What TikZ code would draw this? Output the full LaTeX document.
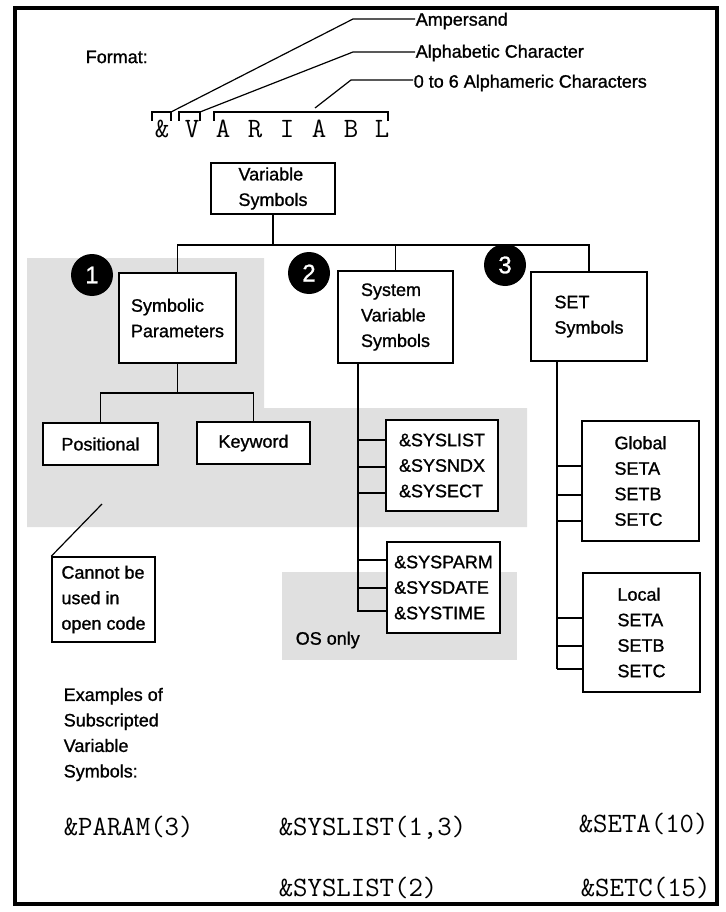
\documentclass[tikz,border=0pt]{standalone}
\usepackage{fontspec}
\setmainfont{Liberation Sans}[BoldFont=Liberation Sans, BoldFeatures={FakeBold=1.1}]
\usepackage{tikz}
\usetikzlibrary{calc, positioning}
\definecolor{screen}{RGB}{224,224,224}

\begin{document}
\begin{tikzpicture}[x=1pt, y=-1pt, line width=1.5pt,
  every node/.style={font=\fontsize{18}{25.5}\selectfont\bfseries},
  txt/.style={anchor=west, inner sep=0pt},
  box/.style={draw, fill=white, align=left, inner sep=0pt},
  num/.style={circle, fill=black, text=white, minimum size=42pt, inner sep=0pt, font=\fontsize{24}{24}\selectfont\bfseries},
  code/.style={anchor=base west, inner sep=0pt, font=\fontsize{28}{28}\selectfont\ttfamily}]
  \useasboundingbox (0,0) rectangle (725,912);

  % screened areas
  \fill[screen] (27,258) -- (264,258) -- (264,408) -- (527,408) -- (527,527) -- (27,527) -- cycle;
  \fill[screen] (282,572) rectangle (517,660);

  % format line
  \node[txt] (format) at (85,57) {Format:};
  \node[txt] (amp) at (415,21) {Ampersand};
  \node[txt] (alpha) at (415,53) {Alphabetic Character};
  \node[txt] (alnum) at (413,83) {0 to 6 Alphameric Characters};
  \foreach \cx/\ch [count=\i] in {162/\&, 192/V, 223/A, 255/R, 287/I, 319/A, 351/B, 382/L}
    \node[code, anchor=base] (ch\i) at (\cx,138) {\ch};
  \draw (152,121) |- (171,112) -- (171,121);
  \draw (179,121) |- (200,112) -- (200,121);
  \draw (214,121) |- (388,112) -- (388,121);
  \coordinate (ampfoot) at (171,112);
  \coordinate (ampknee) at (353,19);
  \coordinate (alphafoot) at (200,112);
  \coordinate (alphaknee) at (353,52);
  \coordinate (alnumfoot) at (315,108);
  \coordinate (alnumknee) at (351,80);
  \draw[line width=1.2pt] (ampfoot) -- (ampknee) -- (ampknee -| amp.west);
  \draw[line width=1.2pt] (alphafoot) -- (alphaknee) -- (alphaknee -| alpha.west);
  \draw[line width=1.2pt] (alnumfoot) -- (alnumknee) -- (alnumknee -| alnum.west);

  % top of the tree
  \node[box, minimum width=124pt, minimum height=51pt] (vs) at (273,188.5) {Variable\\Symbols};
  \coordinate (bus) at (0,245);
  \node[box, minimum width=117pt, minimum height=90pt] (sp) at (177.5,318) {Symbolic\\Parameters};
  \node[box, minimum width=115pt, minimum height=92pt] (svs) at (395.5,317) {System\\Variable\\Symbols};
  \node[box, minimum width=116pt, minimum height=89pt] (set) at (589,316.5) {SET\\Symbols};
  \draw (vs.south) -- (vs.south |- bus);
  \draw (sp.north) -- (sp.north |- bus) -- (set.north |- bus) -- (set.north);
  \draw (svs.north) -- (svs.north |- bus);
  \node[num] (one) at (92,275) {1};
  \node[num] (two) at (309,273) {2};
  \node[num] (three) at (505,265) {3};

  % symbolic parameters
  \node[box, minimum width=115pt, minimum height=42pt] (pos) at (100.5,444) {Positional};
  \node[box, minimum width=113pt, minimum height=42pt] (key) at (253.5,443) {Keyword};
  \coordinate (fork) at (0,393);
  \draw (sp.south) -- (sp.south |- fork);
  \draw (pos.north) -- (pos.north |- fork) -- (key.north |- fork) -- (key.north);
  \node[box, minimum width=103pt, minimum height=85pt] (cannot) at (103.5,599.5) {Cannot be\\used in\\open code};
  \coordinate (spot) at (102,504);
  \draw[line width=1.2pt] (spot) -- (cannot.north west);

  % system variable symbols
  \node[box, minimum width=112pt, minimum height=91pt] (sysa) at (442,465.5) {\&SYSLIST\\\&SYSNDX\\\&SYSECT};
  \node[box, minimum width=113pt, minimum height=91pt] (sysb) at (443.5,587.5) {\&SYSPARM\\\&SYSDATE\\\&SYSTIME};
  \coordinate (svtrunk) at (358,0);
  \draw (svtrunk |- svs.south) -- (svtrunk |- 0,612);
  \foreach \y in {440,467,493} \draw (svtrunk |- 0,\y) -- (sysa.west |- 0,\y);
  \foreach \y in {560,588,611} \draw (svtrunk |- 0,\y) -- (sysb.west |- 0,\y);
  \node[txt] (osonly) at (295,640) {OS only};

  % SET symbols
  \node[box, minimum width=117pt, minimum height=120pt] (glob) at (640.5,481) {Global\\SETA\\SETB\\SETC};
  \node[box, minimum width=117pt, minimum height=119pt] (loc) at (641.5,632.5) {Local\\SETA\\SETB\\SETC};
  \coordinate (settrunk) at (557,0);
  \draw (settrunk |- set.south) -- (settrunk |- 0,669);
  \foreach \y in {466,495,521} \draw (settrunk |- 0,\y) -- (glob.west |- 0,\y);
  \foreach \y in {618,646,669} \draw (settrunk |- 0,\y) -- (loc.west |- 0,\y);

  % examples
  \node[txt, align=left] (examples) at (63,734.5) {Examples of\\Subscripted\\Variable\\Symbols:};
  \node[code] (exparam) at (63,835) {\&PARAM(3)};
  \node[code] (exlista) at (278,835) {\&SYSLIST(1,3)};
  \node[code] (exseta) at (578,832) {\&SETA(10)};
  \node[code] (exlistb) at (278,896) {\&SYSLIST(2)};
  \node[code] (exsetc) at (580,896) {\&SETC(15)};

  \draw[line width=4.5pt] (15,8) rectangle (717,904);
\end{tikzpicture}
\end{document}
